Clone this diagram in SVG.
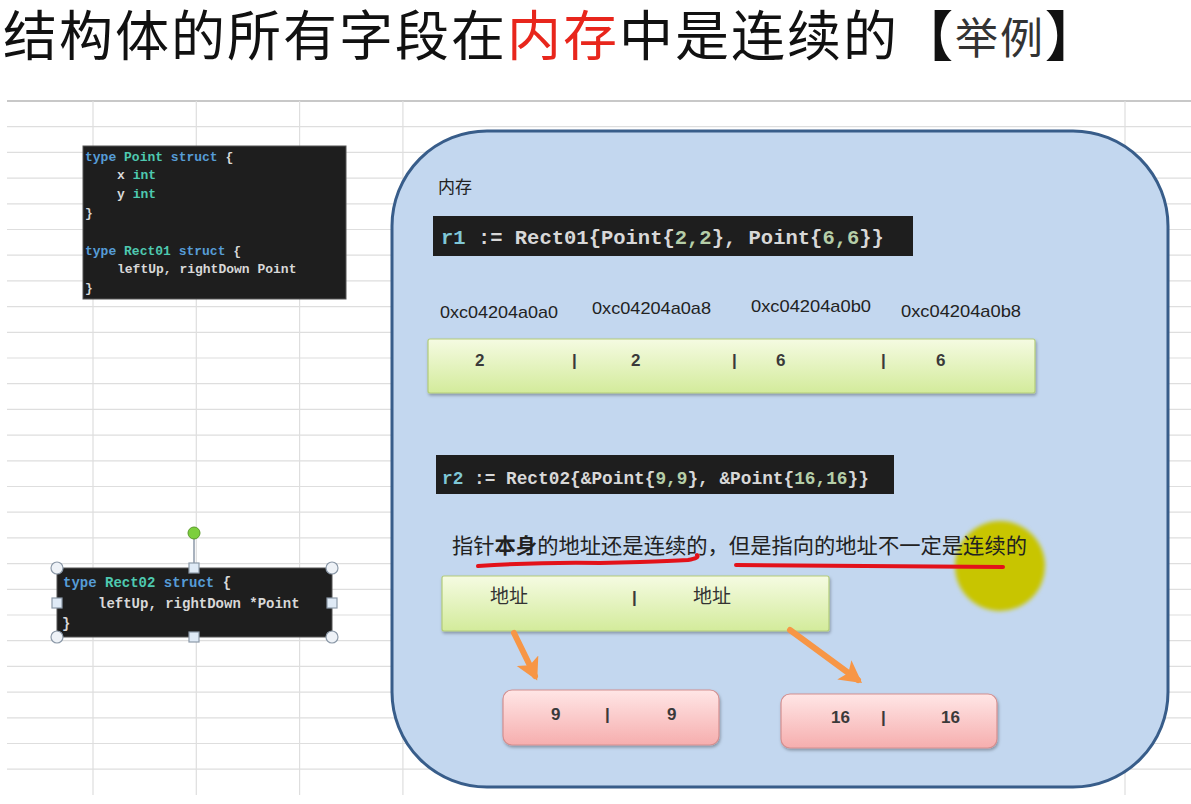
<svg xmlns="http://www.w3.org/2000/svg" width="1191" height="804" viewBox="0 0 1191 804">
<defs>
<style>
.grid{stroke:#dedede;stroke-width:1.2}
.code{font-family:"Liberation Mono","DejaVu Sans Mono",monospace;font-weight:bold}
.kw{fill:#569cd6}.ty{fill:#4ec9b0}.pl{fill:#d8d8d8}.num{fill:#b5cea8}.var{fill:#7fc7d6}
.cn{font-family:"Noto Sans CJK SC","Noto Sans",sans-serif}
.addr{font-family:"Liberation Sans","Noto Sans",sans-serif;font-size:17px;fill:#222}
.cell{font-family:"Liberation Sans",sans-serif;font-size:17px;font-weight:bold;fill:#3a3a3a}
.handle-c{fill:#eef2f7;stroke:#8c99a8;stroke-width:1.2}
.handle-s{fill:#dfeaf6;stroke:#8c99a8;stroke-width:1.2}
.arrow{stroke:#f79646;stroke-width:6;fill:none;stroke-linecap:round}
.redline{stroke:#e3121a;stroke-width:4;fill:none;stroke-linecap:round;stroke-linejoin:round}
</style>
<linearGradient id="gGreen" x1="0" y1="0" x2="0" y2="1">
<stop offset="0" stop-color="#f5fbe2"/>
<stop offset="1" stop-color="#d3eb9b"/>
</linearGradient>
<linearGradient id="gPink" x1="0" y1="0" x2="0" y2="1">
<stop offset="0" stop-color="#ffe6e6"/>
<stop offset="1" stop-color="#f6aeae"/>
</linearGradient>
<filter id="shadow" x="-5%" y="-10%" width="110%" height="130%">
<feDropShadow dx="1" dy="2" stdDeviation="1.5" flood-color="#000" flood-opacity="0.3"/>
</filter>
<filter id="soft" x="-20%" y="-20%" width="140%" height="140%">
<feGaussianBlur stdDeviation="2"/>
</filter>
<marker id="ah" markerUnits="userSpaceOnUse" markerWidth="28" markerHeight="28" refX="17" refY="12" orient="auto">
<path d="M0,0 L22,12 L0,24 L5,12 z" fill="#f79646"/>
</marker>
</defs>

<rect width="1191" height="804" fill="#ffffff"/>

<!-- spreadsheet grid -->
<g id="grid">
<line x1="7" y1="101" x2="1191" y2="101" stroke="#c8c8c8" stroke-width="2"/>
<line class="grid" x1="7" y1="126.7" x2="1191" y2="126.7"/>
<line class="grid" x1="7" y1="152.4" x2="1191" y2="152.4"/>
<line class="grid" x1="7" y1="178.1" x2="1191" y2="178.1"/>
<line class="grid" x1="7" y1="203.8" x2="1191" y2="203.8"/>
<line class="grid" x1="7" y1="229.5" x2="1191" y2="229.5"/>
<line class="grid" x1="7" y1="255.2" x2="1191" y2="255.2"/>
<line class="grid" x1="7" y1="280.9" x2="1191" y2="280.9"/>
<line class="grid" x1="7" y1="306.6" x2="1191" y2="306.6"/>
<line class="grid" x1="7" y1="332.3" x2="1191" y2="332.3"/>
<line class="grid" x1="7" y1="358" x2="1191" y2="358"/>
<line class="grid" x1="7" y1="383.7" x2="1191" y2="383.7"/>
<line class="grid" x1="7" y1="409.4" x2="1191" y2="409.4"/>
<line class="grid" x1="7" y1="435.1" x2="1191" y2="435.1"/>
<line class="grid" x1="7" y1="460.8" x2="1191" y2="460.8"/>
<line class="grid" x1="7" y1="486.5" x2="1191" y2="486.5"/>
<line class="grid" x1="7" y1="512.2" x2="1191" y2="512.2"/>
<line class="grid" x1="7" y1="537.9" x2="1191" y2="537.9"/>
<line class="grid" x1="7" y1="563.6" x2="1191" y2="563.6"/>
<line class="grid" x1="7" y1="589.3" x2="1191" y2="589.3"/>
<line class="grid" x1="7" y1="615" x2="1191" y2="615"/>
<line class="grid" x1="7" y1="640.7" x2="1191" y2="640.7"/>
<line class="grid" x1="7" y1="666.4" x2="1191" y2="666.4"/>
<line class="grid" x1="7" y1="692.1" x2="1191" y2="692.1"/>
<line class="grid" x1="7" y1="717.8" x2="1191" y2="717.8"/>
<line class="grid" x1="7" y1="743.5" x2="1191" y2="743.5"/>
<line class="grid" x1="7" y1="769.2" x2="1191" y2="769.2"/>
<line class="grid" x1="93" y1="101" x2="93" y2="795"/>
<line class="grid" x1="196.3" y1="101" x2="196.3" y2="795"/>
<line class="grid" x1="299.6" y1="101" x2="299.6" y2="795"/>
<line class="grid" x1="402.9" y1="101" x2="402.9" y2="795"/>
<line class="grid" x1="1125" y1="101" x2="1125" y2="795"/>
</g>

<!-- title -->
<text id="title" class="cn" x="3" y="56" font-size="54" letter-spacing="2" fill="#111">结构体的所有字段在<tspan fill="#e8261c">内存</tspan>中是连续的<tspan font-weight="bold">【</tspan><tspan font-size="43" fill="#333" dy="-2">举例</tspan><tspan font-weight="bold" dy="2">】</tspan></text>

<!-- code box 1 -->
<g id="code-point-rect01">
<rect x="83" y="146" width="263" height="153" fill="#1e1e1e" stroke="#555" stroke-width="1"/>
<text class="code" font-size="13" x="85" y="161"><tspan class="kw">type</tspan> <tspan class="ty">Point</tspan> <tspan class="kw">struct</tspan> <tspan class="pl">{</tspan></text>
<text class="code" font-size="13" x="117" y="179"><tspan class="pl">x</tspan> <tspan class="ty">int</tspan></text>
<text class="code" font-size="13" x="117" y="198"><tspan class="pl">y</tspan> <tspan class="ty">int</tspan></text>
<text class="code pl" font-size="13" x="85" y="217">}</text>
<text class="code" font-size="13" x="85" y="255"><tspan class="kw">type</tspan> <tspan class="ty">Rect01</tspan> <tspan class="kw">struct</tspan> <tspan class="pl">{</tspan></text>
<text class="code pl" font-size="13" x="117" y="273">leftUp, rightDown Point</text>
<text class="code pl" font-size="13" x="85" y="292">}</text>
</g>

<!-- code box 2 (selected) -->
<g id="code-rect02">
<line x1="194" y1="533" x2="194" y2="568" stroke="#8c99a8" stroke-width="1.5"/>
<circle cx="194" cy="533" r="6" fill="#7ccf3c" stroke="#5a9a2a" stroke-width="1"/>
<rect x="57" y="568" width="275" height="69" fill="#1e1e1e" stroke="#555" stroke-width="1"/>
<text class="code" font-size="14" x="63" y="587"><tspan class="kw">type</tspan> <tspan class="ty">Rect02</tspan> <tspan class="kw">struct</tspan> <tspan class="pl">{</tspan></text>
<text class="code pl" font-size="14" x="98" y="608">leftUp, rightDown *Point</text>
<text class="code pl" font-size="14" x="62" y="628">}</text>
<circle class="handle-c" cx="57" cy="568" r="6"/>
<circle class="handle-c" cx="332" cy="568" r="6"/>
<circle class="handle-c" cx="57" cy="637" r="6"/>
<circle class="handle-c" cx="332" cy="637" r="6"/>
<rect class="handle-s" x="189" y="563" width="10" height="10"/>
<rect class="handle-s" x="189" y="632" width="10" height="10"/>
<rect class="handle-s" x="52" y="598" width="10" height="10"/>
<rect class="handle-s" x="327" y="598" width="10" height="10"/>
</g>

<!-- memory container -->
<g id="memory">
<rect x="392" y="131" width="776" height="656" rx="95" ry="95" fill="#c3d7ef" stroke="#385d8a" stroke-width="3"/>
<text class="cn" x="438" y="193" font-size="17" fill="#222">内存</text>
</g>

<!-- r1 code -->
<g id="r1-code">
<rect x="433" y="216" width="480" height="40" fill="#1e1e1e"/>
<text class="code" font-size="20.5" x="441" y="244"><tspan class="var">r1</tspan><tspan class="pl"> := Rect01{Point{</tspan><tspan class="num">2,2</tspan><tspan class="pl">}, Point{</tspan><tspan class="num">6,6</tspan><tspan class="pl">}}</tspan></text>
</g>

<!-- addresses -->
<g id="addresses">
<text class="addr" x="440" y="318" textLength="118" lengthAdjust="spacingAndGlyphs">0xc04204a0a0</text>
<text class="addr" x="592" y="314" textLength="119" lengthAdjust="spacingAndGlyphs">0xc04204a0a8</text>
<text class="addr" x="751" y="312" textLength="120" lengthAdjust="spacingAndGlyphs">0xc04204a0b0</text>
<text class="addr" x="901" y="317" textLength="120" lengthAdjust="spacingAndGlyphs">0xc04204a0b8</text>
</g>

<!-- r1 memory bar -->
<g id="r1-bar">
<rect x="428" y="339" width="607" height="54" rx="2" fill="url(#gGreen)" stroke="#b3cc7a" stroke-width="1.2" filter="url(#shadow)"/>
<text class="cell" x="475" y="366">2</text>
<text class="cell" x="572" y="366">|</text>
<text class="cell" x="631" y="366">2</text>
<text class="cell" x="732" y="366">|</text>
<text class="cell" x="776" y="366">6</text>
<text class="cell" x="881" y="366">|</text>
<text class="cell" x="936" y="366">6</text>
</g>

<!-- r2 code -->
<g id="r2-code">
<rect x="436" y="455" width="458" height="39" fill="#1e1e1e"/>
<text class="code" font-size="17.8" x="442" y="484"><tspan class="var">r2</tspan><tspan class="pl"> := Rect02{&amp;Point{</tspan><tspan class="num">9,9</tspan><tspan class="pl">}, &amp;Point{</tspan><tspan class="num">16,16</tspan><tspan class="pl">}}</tspan></text>
</g>

<!-- highlight circle -->
<circle id="highlight" cx="1000" cy="566" r="45" fill="#c8c500" filter="url(#soft)"/>

<!-- explanation -->
<g id="note">
<text class="cn" x="452" y="553" font-size="21" fill="#222" textLength="575" lengthAdjust="spacingAndGlyphs">指针<tspan font-weight="bold">本身</tspan>的地址还是连续的，但是指向的地址不一定是连续的</text>
<path class="redline" d="M478,566 Q540,562 600,563 L640,562 Q670,561 688,560 Q700,558 697,555"/>
<path class="redline" d="M736,565 L1003,567"/>
</g>

<!-- r2 pointer bar -->
<g id="r2-bar">
<rect x="442" y="576" width="387" height="55" rx="2" fill="url(#gGreen)" stroke="#b3cc7a" stroke-width="1.2" filter="url(#shadow)"/>
<text class="cn" x="490" y="603" font-size="19" fill="#333">地址</text>
<text class="cell" x="632" y="603">|</text>
<text class="cn" x="693" y="603" font-size="19" fill="#333">地址</text>
</g>

<!-- pointed values -->
<g id="point-9">
<rect x="503" y="690" width="216" height="55" rx="9" fill="url(#gPink)" stroke="#d48f8f" stroke-width="1.2" filter="url(#shadow)"/>
<text class="cell" x="551" y="720" font-size="16">9</text>
<text class="cell" x="605" y="720" font-size="16">|</text>
<text class="cell" x="667" y="720" font-size="16">9</text>
</g>
<g id="point-16">
<rect x="781" y="694" width="216" height="54" rx="9" fill="url(#gPink)" stroke="#d48f8f" stroke-width="1.2" filter="url(#shadow)"/>
<text class="cell" x="831" y="723" font-size="16">16</text>
<text class="cell" x="881" y="723" font-size="16">|</text>
<text class="cell" x="941" y="723" font-size="16">16</text>
</g>

<!-- connectors -->
<g id="connectors">
<line class="arrow" x1="514" y1="633" x2="535" y2="676" marker-end="url(#ah)"/>
<line class="arrow" x1="790" y1="630" x2="858" y2="680" marker-end="url(#ah)"/>
</g>
</svg>
